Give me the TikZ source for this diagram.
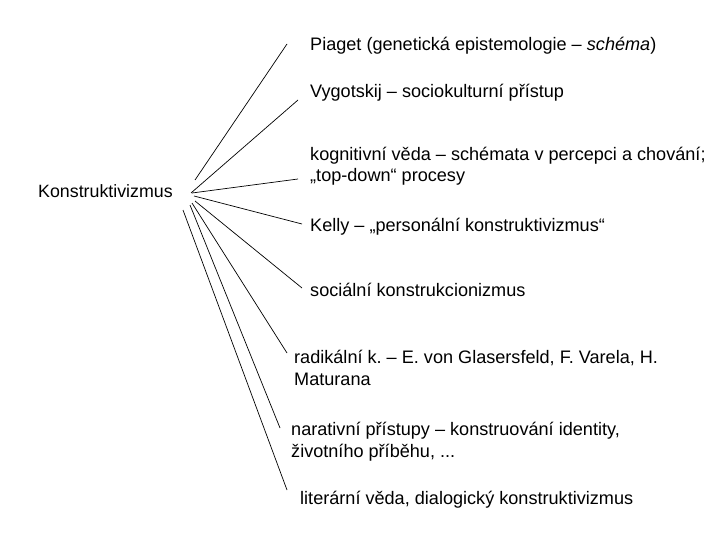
\documentclass[tikz,border=0pt]{standalone}
\usepackage{fontspec}
\setmainfont{Liberation Sans}
\usepackage{tikz}
\usetikzlibrary{positioning}
\frenchspacing

\begin{document}
\begin{tikzpicture}
  [
    x=1pt, y=-1pt,
    Root/.style={anchor=base west, inner sep=0pt, font=\fontsize{17.8}{21.8}\selectfont},
    Item/.style={anchor=base west, inner sep=0pt, align=left, font=\fontsize{18.1}{21.8}\selectfont},
    Branch/.style={draw=black, line width=0.7pt}
  ]
  \useasboundingbox (0,0) rectangle (720,540);
  % Nodes (two-line items sit on their last baseline)
  \node[Root] (root) at (38,198) {Konstruktivizmus};
  \node[Item] (piaget) at (310,51) {Piaget (genetická epistemologie – \textit{schéma})};
  \node[Item] (vygotskij) at (310,98) {Vygotskij – sociokulturní přístup};
  \node[Item] (kognitivni) at (310,182) {kognitivní věda – schémata v percepci a chování;\\„top-down“ procesy};
  \node[Item] (kelly) at (310,231) {Kelly – „personální konstruktivizmus“};
  \node[Item] (socialni) at (310,296) {sociální konstrukcionizmus};
  \node[Item] (radikalni) at (294,385) {radikální k. – E. von Glasersfeld, F. Varela, H.\\Maturana};
  \node[Item] (narativni) at (291,457) {narativní přístupy – konstruování identity,\\životního příběhu, ...};
  \node[Item] (literarni) at (300,504) {literární věda, dialogický konstruktivizmus};
  % Line ends
  \coordinate (piaget-s) at (195,180);
  \coordinate (piaget-e) at (287,44);
  \coordinate (vygotskij-s) at (191,193);
  \coordinate (vygotskij-e) at (298,100);
  \coordinate (kognitivni-s) at (192,193);
  \coordinate (kognitivni-e) at (298,179);
  \coordinate (kelly-s) at (194,196);
  \coordinate (kelly-e) at (302,224);
  \coordinate (socialni-s) at (195,201);
  \coordinate (socialni-e) at (302,288);
  \coordinate (radikalni-s) at (192,203);
  \coordinate (radikalni-e) at (287,353);
  \coordinate (narativni-s) at (190,205);
  \coordinate (narativni-e) at (280,428);
  \coordinate (literarni-s) at (183,210);
  \coordinate (literarni-e) at (287,490);
  % Lines
  \path [Branch] (piaget-s) -- (piaget-e);
  \path [Branch] (vygotskij-s) -- (vygotskij-e);
  \path [Branch] (kognitivni-s) -- (kognitivni-e);
  \path [Branch] (kelly-s) -- (kelly-e);
  \path [Branch] (socialni-s) -- (socialni-e);
  \path [Branch] (radikalni-s) -- (radikalni-e);
  \path [Branch] (narativni-s) -- (narativni-e);
  \path [Branch] (literarni-s) -- (literarni-e);
\end{tikzpicture}
\end{document}
